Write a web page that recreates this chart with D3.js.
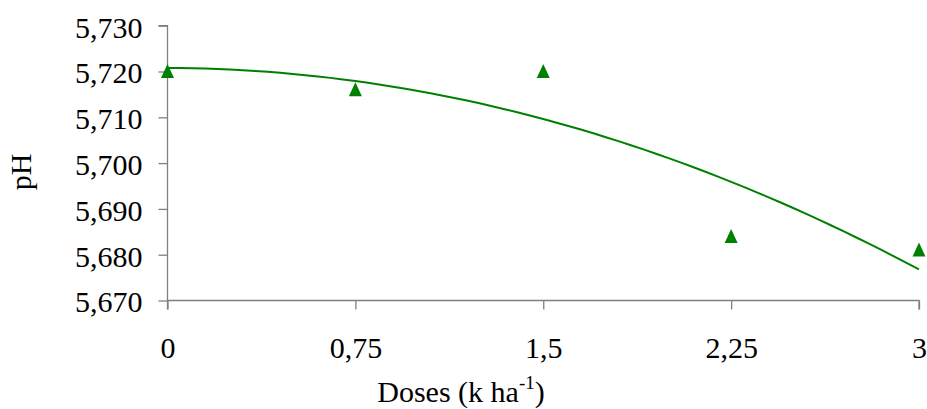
<!DOCTYPE html>
<html><head><meta charset="utf-8">
<script src="https://cdn.jsdelivr.net/npm/d3@7"></script>
<style>body{margin:0;background:#fff}svg{display:block}text{font-family:"Liberation Serif","Times New Roman",serif;fill:#000}</style>
</head><body><svg id="c" width="927" height="409"></svg>
<script>
const doses = [0, 0.75, 1.5, 2.25, 3];
const phValues = [5.720, 5.716, 5.720, 5.684, 5.681];
const xTicks = [0, 0.75, 1.5, 2.25, 3];
const yTicks = [5.670, 5.680, 5.690, 5.700, 5.710, 5.720, 5.730];

const svg = d3.select("#c");
const x = d3.scaleLinear().domain([0, 3]).range([167.5, 919]);
const y = d3.scaleLinear().domain([5.670, 5.730]).range([300.5, 25.7]);
const fmtY = v => d3.format(".3f")(v).replace(".", ",");
const fmtX = v => String(v).replace(".", ",");

// quadratic least-squares trendline (as in the original spreadsheet)
function polyfit2(xs, ys) {
  const n = xs.length;
  let S = [0,0,0,0,0], T = [0,0,0];
  for (let i = 0; i < n; i++) {
    for (let k = 0; k < 5; k++) S[k] += Math.pow(xs[i], k);
    for (let k = 0; k < 3; k++) T[k] += ys[i] * Math.pow(xs[i], k);
  }
  const A = [[S[0],S[1],S[2],T[0]],[S[1],S[2],S[3],T[1]],[S[2],S[3],S[4],T[2]]];
  for (let i = 0; i < 3; i++) {
    for (let j = i + 1; j < 3; j++) {
      const f = A[j][i] / A[i][i];
      for (let k = i; k < 4; k++) A[j][k] -= f * A[i][k];
    }
  }
  const c = [0,0,0];
  for (let i = 2; i >= 0; i--) {
    let s = A[i][3];
    for (let k = i + 1; k < 3; k++) s -= A[i][k] * c[k];
    c[i] = s / A[i][i];
  }
  return c;
}
const coef = polyfit2(doses, phValues);
const trend = d3.range(0, 3.0001, 0.05).map(d => [d, coef[0] + coef[1]*d + coef[2]*d*d]);

// axes
const yAxis = svg.append("g").attr("transform", "translate(167.5,0)")
  .call(d3.axisLeft(y).tickValues(yTicks).tickFormat(fmtY).tickSize(9).tickPadding(16));
const xAxis = svg.append("g").attr("transform", "translate(0,300.5)")
  .call(d3.axisBottom(x).tickValues(xTicks).tickFormat(fmtX).tickSize(9));
[yAxis, xAxis].forEach(g => {
  g.attr("font-size", 30).attr("font-family", "Liberation Serif");
  g.select(".domain").attr("stroke", "#808080").attr("stroke-width", 1.3);
  g.selectAll(".tick line").attr("stroke", "#808080").attr("stroke-width", 1.3);
  g.selectAll(".tick text").attr("fill", "#000");
});
yAxis.selectAll(".tick text").attr("dy", "0.38em");
xAxis.selectAll(".tick text").attr("y", 57.5).attr("dy", 0);
xAxis.select(".domain").attr("d", `M167.5,9V0H919V9`);
yAxis.select(".domain").attr("d", `M-9,25.7H0V300.5`);

// trend line
svg.append("path").datum(trend)
  .attr("fill", "none").attr("stroke", "#008000").attr("stroke-width", 2)
  .attr("d", d3.line().x(d => x(d[0])).y(d => y(d[1])));

// points
svg.selectAll(".pt").data(doses.map((d, i) => [d, phValues[i]])).enter()
  .append("path").attr("class", "pt")
  .attr("transform", d => `translate(${x(d[0])},${y(d[1])})`)
  .attr("d", "M0,-7.5L6.5,6.5L-6.5,6.5Z")
  .attr("fill", "#008000");

// axis titles
const xt = svg.append("text").attr("x", 461).attr("y", 402).attr("text-anchor", "middle").attr("font-size", 30);
xt.append("tspan").text("Doses (k ha");
xt.append("tspan").attr("font-size", 19).attr("dy", -13).text("-1");
xt.append("tspan").attr("dy", 13).text(")");

svg.append("text").attr("transform", "translate(31,172) rotate(-90)")
  .attr("text-anchor", "middle").attr("font-size", 30).text("pH");
</script></body></html>
